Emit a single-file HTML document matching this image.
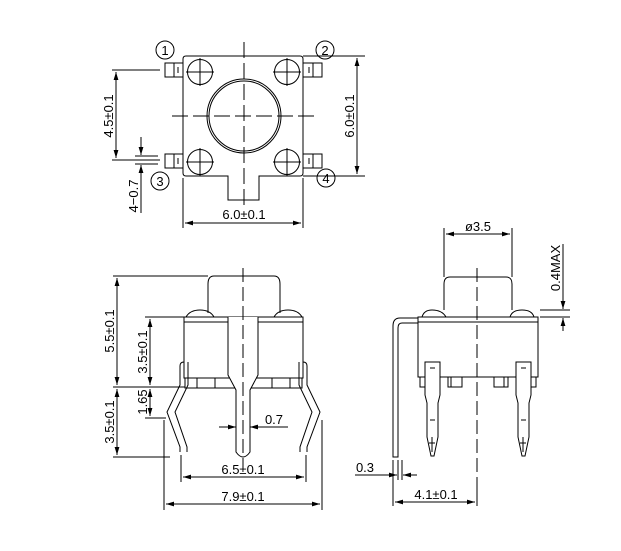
<!DOCTYPE html>
<html><head><style>html,body{margin:0;padding:0;background:#fff}svg{display:block}text{font-family:"Liberation Sans",sans-serif;font-size:13px;fill:#000}</style></head>
<body>
<svg width="621" height="551" viewBox="0 0 621 551" xmlns="http://www.w3.org/2000/svg">
<defs>
<marker id="a" viewBox="0 0 10 6" refX="10" refY="3" markerWidth="8" markerHeight="5" orient="auto-start-reverse"><path d="M0,0L10,3L0,6z" fill="#000"/></marker>
</defs>
<g fill="none" stroke="#000" stroke-width="1">
<path d="M186,56H300Q303,56 303,59V173Q303,176 300,176H259V200H228V176H186Q183,176 183,173V59Q183,56 186,56Z"/>
<circle cx="244" cy="116" r="37"/><circle cx="244" cy="116" r="35"/>
<circle cx="200" cy="72" r="12.5"/><circle cx="287" cy="72" r="12.5"/>
<circle cx="200" cy="162" r="12.5"/><circle cx="287" cy="162" r="12.5"/>
<path d="M186,72h28M200,58v28M273,72h28M287,58v28M186,162h28M200,148v28M273,162h28M287,148v28"/>
<path d="M172,116H315M244,42V208" stroke-dasharray="16,5"/>
<rect x="165" y="63" width="18" height="14"/><rect x="165" y="154" width="18" height="14"/>
<rect x="303" y="63" width="19" height="14"/><rect x="303" y="154" width="19" height="14"/>
<path d="M174,63v14M178,67v6M313,63v14M309,67v6M174,154v14M178,158v6M313,154v14M309,158v6"/>
<circle cx="165" cy="50" r="9"/><circle cx="325" cy="50" r="9"/><circle cx="160" cy="181" r="9"/><circle cx="326" cy="178" r="9"/>
<path d="M303,56H365M303,176H365"/>
<path d="M357,58V174" marker-start="url(#a)" marker-end="url(#a)"/>
<path d="M112,70H160M112,160H160"/>
<path d="M116,72V158" marker-start="url(#a)" marker-end="url(#a)"/>
<path d="M135,156H158M135,164H158"/>
<path d="M141,137V155" marker-end="url(#a)"/><path d="M141,213V165" marker-end="url(#a)"/>
<path d="M183,178V228M303,178V228"/>
<path d="M185,223H301" marker-start="url(#a)" marker-end="url(#a)"/>
<path d="M208,313V284Q208,276 214,276H274Q280,276 280,284V313"/>
<path d="M186,317Q190,310 200,310Q210,310 214,317M274,317Q278,310 288,310Q298,310 302,317"/>
<rect x="184" y="317" width="119" height="61"/><path d="M184,322H303"/>
<rect x="185" y="378" width="117" height="10"/><path d="M197,378v10M215,378v10M272,378v10M290,378v10"/>
<path d="M228,317V375L236,390V452Q243,462 250,452V390L258,375V317" fill="#fff"/>
<path d="M243,268V470" stroke-dasharray="14,5"/>
<path d="M184,362Q180,362 180,366V385L167,412L180,447V452M188,362V385L175,412L187,447V452"/>
<path d="M303,362Q307,362 307,366V385L320,412L307,447V452M299,362V385L312,412L300,447V452"/>
<path d="M113,276H208M113,387H185M145,317H184M145,418H166M113,457H170"/>
<path d="M117,278V385" marker-start="url(#a)" marker-end="url(#a)"/>
<path d="M117,389V455" marker-start="url(#a)" marker-end="url(#a)"/>
<path d="M150,319V385" marker-start="url(#a)" marker-end="url(#a)"/>
<path d="M150,389V416" marker-start="url(#a)" marker-end="url(#a)"/>
<path d="M219,427H236" marker-end="url(#a)"/><path d="M288,427H250" marker-end="url(#a)"/>
<path d="M181,455V482M306,455V482M164,420V510M322,420V510"/>
<path d="M183,477H304" marker-start="url(#a)" marker-end="url(#a)"/>
<path d="M166,504H320" marker-start="url(#a)" marker-end="url(#a)"/>
<path d="M444,310V284Q444,277 450,277H506Q512,277 512,284V310"/>
<path d="M422,317Q424,310 432,310Q442,310 446,317M510,317Q512,310 522,310Q532,310 534,317"/>
<rect x="418" y="317" width="120" height="60"/><path d="M418,322H538"/>
<path d="M420,377v10h20v-10M448,377v10h14v-10M494,377v10h14v-10M518,377v10h18v-10M451,377v10M504,377v10"/>
<path d="M418,318H400Q393,318 393,326V457H398V328Q398,323 402,323H418"/>
<path d="M425,362H440V395L438,403V437L434,456H431L427,437V403L425,395Z" fill="#fff"/>
<path d="M430,368h5M430,420h5M432,437v15M429,443h6"/>
<path d="M516,362H531V395L529,403V437L525,456H522L518,437V403L516,395Z" fill="#fff"/>
<path d="M521,368h5M521,420h5M523,437v15M520,443h6"/>
<path d="M477,268V490" stroke-dasharray="14,5"/>
<path d="M444,228V277M512,228V277"/>
<path d="M446,234H510" marker-start="url(#a)" marker-end="url(#a)"/>
<path d="M540,310H570M540,317H570"/>
<path d="M563,296V309" marker-end="url(#a)"/><path d="M563,331V318" marker-end="url(#a)"/>
<path d="M563,244V296"/>
<path d="M393,460V506M477,490V506"/>
<path d="M398,460V480M402,460V480"/>
<path d="M355,475H397" marker-end="url(#a)"/><path d="M417,475H403" marker-end="url(#a)"/>
<path d="M395,502H475" marker-start="url(#a)" marker-end="url(#a)"/>
</g>
<g>
<text x="165" y="55" text-anchor="middle">1</text><text x="325" y="55" text-anchor="middle">2</text>
<text x="160" y="186" text-anchor="middle">3</text><text x="326" y="183" text-anchor="middle">4</text>
<text transform="translate(354,116) rotate(-90)" text-anchor="middle">6.0±0.1</text>
<text transform="translate(113,116) rotate(-90)" text-anchor="middle">4.5±0.1</text>
<text transform="translate(138,196) rotate(-90)" text-anchor="middle">4−0.7</text>
<text x="244" y="219" text-anchor="middle">6.0±0.1</text>
<text transform="translate(114,331) rotate(-90)" text-anchor="middle">5.5±0.1</text>
<text transform="translate(147,352) rotate(-90)" text-anchor="middle">3.5±0.1</text>
<text transform="translate(147,402) rotate(-90)" text-anchor="middle">1.65</text>
<text transform="translate(114,422) rotate(-90)" text-anchor="middle">3.5±0.1</text>
<text x="274" y="424" text-anchor="middle">0.7</text>
<text x="243" y="474" text-anchor="middle">6.5±0.1</text>
<text x="243" y="501" text-anchor="middle">7.9±0.1</text>
<text x="478" y="231" text-anchor="middle">ø3.5</text>
<text transform="translate(560,268) rotate(-90)" text-anchor="middle">0.4MAX</text>
<text x="365" y="472" text-anchor="middle">0.3</text>
<text x="436" y="499" text-anchor="middle">4.1±0.1</text>
</g>
</svg>
</body></html>
